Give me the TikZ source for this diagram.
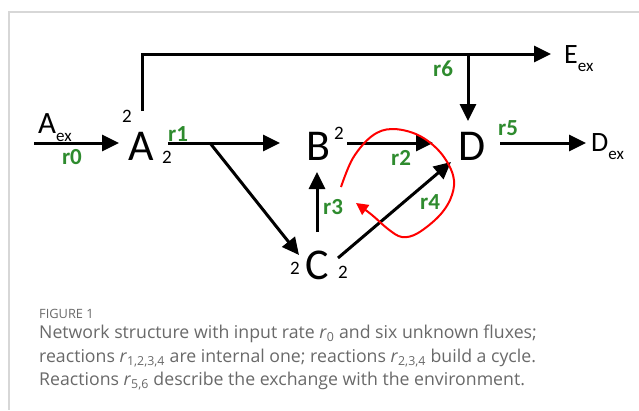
\documentclass[tikz,border=0pt]{standalone}
\usepackage{fontspec}
\setmainfont{Carlito}
\newfontfamily\capfont{Open Sans}
\usetikzlibrary{arrows.meta}
\definecolor{rgreen}{RGB}{46,139,46}
\definecolor{capgray}{RGB}{105,105,105}
\definecolor{framegray}{RGB}{215,215,215}
\begin{document}
\begin{tikzpicture}[x=1pt,y=-1pt,
  flow/.style={line width=3pt,-{Triangle[length=17pt,width=16pt]}},
  big/.style={inner sep=0pt,font=\fontsize{44}{44}\selectfont},
  exch/.style={inner sep=0pt,anchor=base west,font=\fontsize{28}{28}\selectfont},
  sto/.style={inner sep=0pt,font=\fontsize{19}{19}\selectfont},
  lab/.style={inner sep=0pt,text=rgreen,font=\fontsize{23}{23}\selectfont\bfseries},
  cyc/.style={red,line width=2pt,-{Triangle[length=12pt,width=12pt]}},
  captxt/.style={inner sep=0pt,anchor=base west,text=capgray}]
\useasboundingbox (0,0) rectangle (639,410);
% frame
\draw[framegray,line width=1.5pt] (639,12) -- (9,12) -- (9,410);
% species
\node[exch] (Aex) at (38,133) {\fontsize{31}{31}\selectfont A\raisebox{-8pt}{\fontsize{17}{17}\selectfont ex}};
\node[big] (A) at (141,146) {A};
\node[big] (B) at (318,146) {B};
\node[big] (C) at (317,265) {C};
\node[big] (D) at (472,146) {D};
\node[exch] (Eex) at (564,63) {E\raisebox{-8pt}{\fontsize{17}{17}\selectfont ex}};
\node[exch] (Dex) at (591,151) {D\raisebox{-8pt}{\fontsize{17}{17}\selectfont ex}};
% stoichiometric coefficients
\node[sto] (sA1) at (127,116) {2};
\node[sto] (sA2) at (167,157) {2};
\node[sto] (sB) at (339,133) {2};
\node[sto] (sC1) at (295,268) {2};
\node[sto] (sC2) at (343,272) {2};
% connector points
\coordinate (r0s) at (34,143);
\coordinate (r0e) at (119,143);
\coordinate (r1s) at (168,143);
\coordinate (r1e) at (280,143);
\coordinate (br) at (210,143);
\coordinate (Cin) at (299,255);
\coordinate (r6s) at (142,111);
\coordinate (r6c) at (142,54);
\coordinate (r6e) at (551,54);
\coordinate (r6b) at (468,54);
\coordinate (Din) at (468,121);
\coordinate (r2s) at (347,143);
\coordinate (r2e) at (433,143);
\coordinate (r3s) at (317,232);
\coordinate (r3e) at (317,172);
\coordinate (r4s) at (338,258);
\coordinate (r4e) at (451,162);
\coordinate (r5s) at (500,143);
\coordinate (r5e) at (586,143);
% reactions
\draw[flow] (r0s) -- (r0e);
\draw[flow] (r1s) -- (r1e);
\draw[flow] (br) -- (Cin);
\draw[flow] (r6s) -- (r6c) -- (r6e);
\draw[flow] (r6b) -- (Din);
\draw[flow] (r2s) -- (r2e);
\draw[flow] (r3s) -- (r3e);
\draw[flow] (r4s) -- (r4e);
\draw[flow] (r5s) -- (r5e);
% reaction labels
\node[lab] (l0) at (72,157) {r0};
\node[lab] (l1) at (178,134) {r1};
\node[lab] (l2) at (401,158) {r2};
\node[lab] (l3) at (333,207) {r3};
\node[lab] (l4) at (430,202) {r4};
\node[lab] (l5) at (508,128) {r5};
\node[lab] (l6) at (443,69) {r6};
% cycle
\draw[cyc] plot[smooth,tension=0.6] coordinates {(341,187) (353,158) (372,136) (392,129) (418,135) (440,152) (453,175) (452,195) (440,215) (418,233) (402,237) (388,229) (372,215) (356,203)};
% caption
\node[captxt,font=\capfont\fontsize{12.8}{12.8}\selectfont] (fig) at (39,318) {FIGURE 1};
\node[captxt,font=\capfont\fontsize{17.7}{17.7}\selectfont] (c1) at (39,338) {Network structure with input rate \textit{r}\textsubscript{0} and six unknown fluxes;};
\node[captxt,font=\capfont\fontsize{17.7}{17.7}\selectfont] (c2) at (39,362) {reactions \textit{r}\textsubscript{1,2,3,4} are internal one; reactions \textit{r}\textsubscript{2,3,4} build a cycle.};
\node[captxt,font=\capfont\fontsize{17.7}{17.7}\selectfont] (c3) at (39,385) {Reactions \textit{r}\textsubscript{5,6} describe the exchange with the environment.};
\end{tikzpicture}
\end{document}
